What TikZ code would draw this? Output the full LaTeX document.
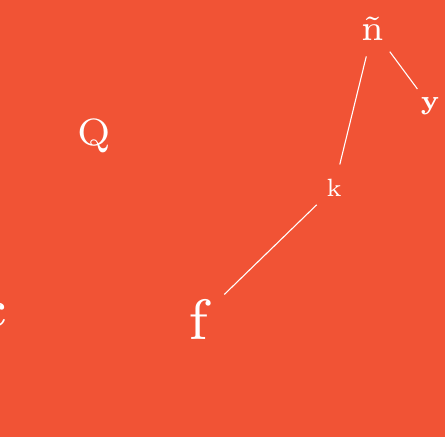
\documentclass[tikz,border=0pt]{standalone}
\usepackage{fontspec}
\setmainfont{lmroman7-regular.otf}[BoldFont=lmroman7-bold.otf]
\usepackage{xcolor}
\usepackage{tikz}
\usetikzlibrary{positioning}

\definecolor{bgred}{RGB}{241,83,53}

\begin{document}
\begin{tikzpicture}[
  x=1pt, y=-1pt,
  every node/.style={circle, text=white, inner sep=0pt},
  link/.style={draw=white, line width=1.1pt}
]
\useasboundingbox[fill=bgred] (0,0) rectangle (445,437);
\clip (0,0) rectangle (445,437);

\node (ntilde) [minimum size=56pt] at (373,29)  {\fontsize{36}{38}\selectfont ñ};
\node (y)      [minimum size=42pt] at (430,106) {\fontsize{27}{29}\selectfont\textbf{y}};
\node (Q)                          at (94,136)  {\fontsize{38}{40}\selectfont Q};
\node (k)      [minimum size=48pt] at (334,188) {\fontsize{25}{27}\selectfont k};
\node (f)      [minimum size=70pt] at (199,319) {\fontsize{57}{59}\selectfont f};
\node (c)                          at (-6,315)  {\fontsize{53}{55}\selectfont c};

\draw[link] (ntilde) -- (k);
\draw[link] (ntilde) -- (y);
\draw[link] (k) -- (f);
\end{tikzpicture}
\end{document}
